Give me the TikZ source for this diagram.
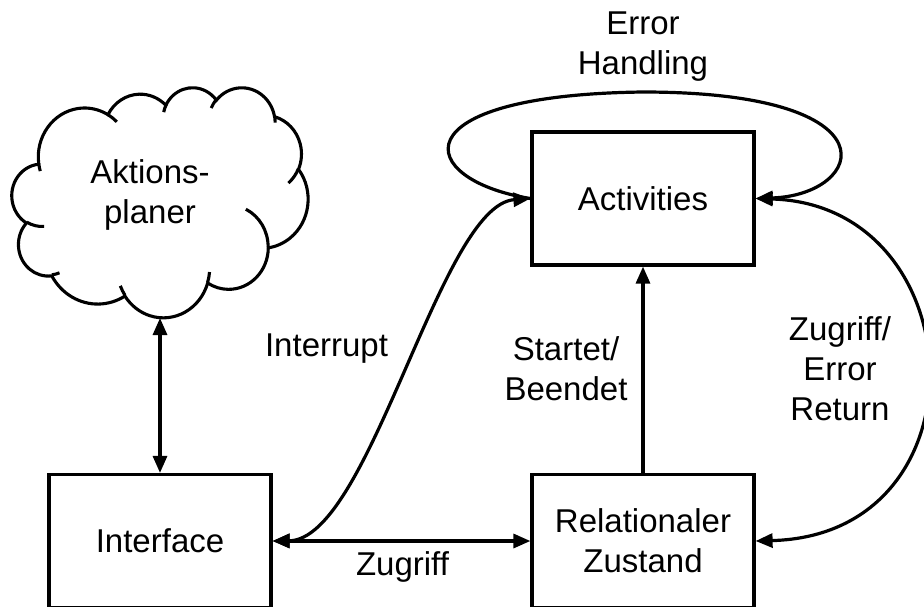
\documentclass[tikz,border=0pt]{standalone}
\usepackage{fontspec}
\setmainfont{Liberation Sans}
\usetikzlibrary{arrows.meta}
% elliptical arc given by radii, visual start angle and sweep (DrawingML style)
\tikzset{
  oarc/.style n args={4}{x radius=#1, y radius=#2,
    start angle={atan2((#1)*sin(#3),(#2)*cos(#3))},
    delta angle={mod(atan2((#1)*sin((#3)+(#4)),(#2)*cos((#3)+(#4)))-atan2((#1)*sin(#3),(#2)*cos(#3))+720,360)}}
}
\begin{document}
\begin{tikzpicture}[x=1pt,y=-1pt,line width=3.2pt,
  >={Triangle[length=17pt,width=14pt]},
  every node/.style={font=\fontsize{33}{40}\selectfont},
  box/.style={draw, line width=3.2pt, minimum width=222pt, minimum height=133pt, inner sep=0pt, align=center},
  lbl/.style={align=center, inner sep=0pt},
  cloudline/.style={line width=3.1pt, line join=miter, line cap=butt}]
\clip (0,0) rectangle (924,606);
\fill[white] (0,0) rectangle (924,606);

% cloud outline
\begin{scope}[shift={(12,87)}, x=0.685185pt, y=-0.532407pt]
\draw[cloudline] (39.00,143.70)
  arc[oarc={67.53}{91.90}{-190.4875}{123.7805}]
  arc[oarc={53.33}{72.67}{-144.1024}{89.9452}]
  arc[oarc={43.65}{59.45}{-145.8079}{99.7230}]
  arc[oarc={48.57}{65.95}{-130.9861}{117.2417}]
  arc[oarc={53.33}{72.73}{-78.7089}{109.0269}]
  arc[oarc={67.75}{92.20}{-46.2673}{130.2690}]
  arc[oarc={57.85}{78.67}{0.6250}{114.0333}]
  arc[oarc={67.52}{92.15}{22.4516}{115.1726}]
  arc[oarc={77.20}{105.43}{66.2426}{75.7110}]
  arc[oarc={43.60}{59.18}{-274.9421}{146.7356}]
  arc[oarc={43.45}{59.45}{-246.8285}{152.5189}]
  -- cycle;
% inner puff strokes
\draw[cloudline] (46.93,261.77) arc[oarc={43.45}{59.45}{86.7420}{26.4295}];
\draw[cloudline] (69.28,348.99) arc[oarc={43.60}{59.18}{73.6105}{11.4475}];
\draw[cloudline] (164.78,390.90) arc[oarc={67.52}{92.15}{137.6242}{14.0811}];
\draw[cloudline] (288.27,347.51) arc[oarc={67.52}{92.15}{6.4533}{15.9984}];
\draw[cloudline] (341.29,229.54) arc[oarc={57.85}{78.67}{-70.2924}{70.9174}];
\draw[cloudline] (417.98,153.54) arc[oarc={53.33}{72.73}{30.3180}{27.7515}];
\draw[cloudline] (383.24,54.26) arc[oarc={48.57}{65.95}{-13.7443}{14.8589}];
\draw[cloudline] (290.78,39.52) arc[oarc={48.57}{65.95}{-149.1815}{18.1954}];
\draw[cloudline] (221.41,47.20) arc[oarc={43.65}{59.45}{-163.4943}{17.6864}];
\draw[cloudline] (140.00,51.92) arc[oarc={67.53}{91.90}{-66.7070}{12.3194}];
\draw[cloudline] (41.27,157.89) arc[oarc={67.53}{91.90}{157.6544}{11.8582}];
\end{scope}

\node[lbl] (plan) at (150,195) {Aktions-\\planer};
\coordinate (cloudbot) at (160,318);

% boxes
\node[box] (act) at (643,198.5) {Activities};
\node[box] (iface) at (160,541) {Interface};
\node[box] (rel) at (643,541) {Relationaler\\Zustand};

% connectors
\draw[<->] (cloudbot) -- (iface.north);
\draw[<->] (iface.east) -- (rel.west);
\draw[->] (rel.north) -- (act.south);
\draw[<->] (iface.east) .. controls (370,540) and (440,205) .. (act.west);
\draw[->] (act.west) .. controls (415,180) and (395,95) .. (643,92)
  .. controls (900,92) and (865,195) .. (act.east);
\draw[<->] (act.east) .. controls (975,205) and (990,535) .. (rel.east);

% labels
\node[lbl] (leh) at (643,47) {Error\\Handling};
\node[lbl] (lint) at (326.5,349) {Interrupt};
\node[lbl] (lsb) at (566,369) {Startet/\\Beendet};
\node[lbl] (lzer) at (840,369) {Zugriff/\\Error\\Return};
\node[lbl] (lzug) at (402.5,567) {Zugriff};
\end{tikzpicture}
\end{document}
